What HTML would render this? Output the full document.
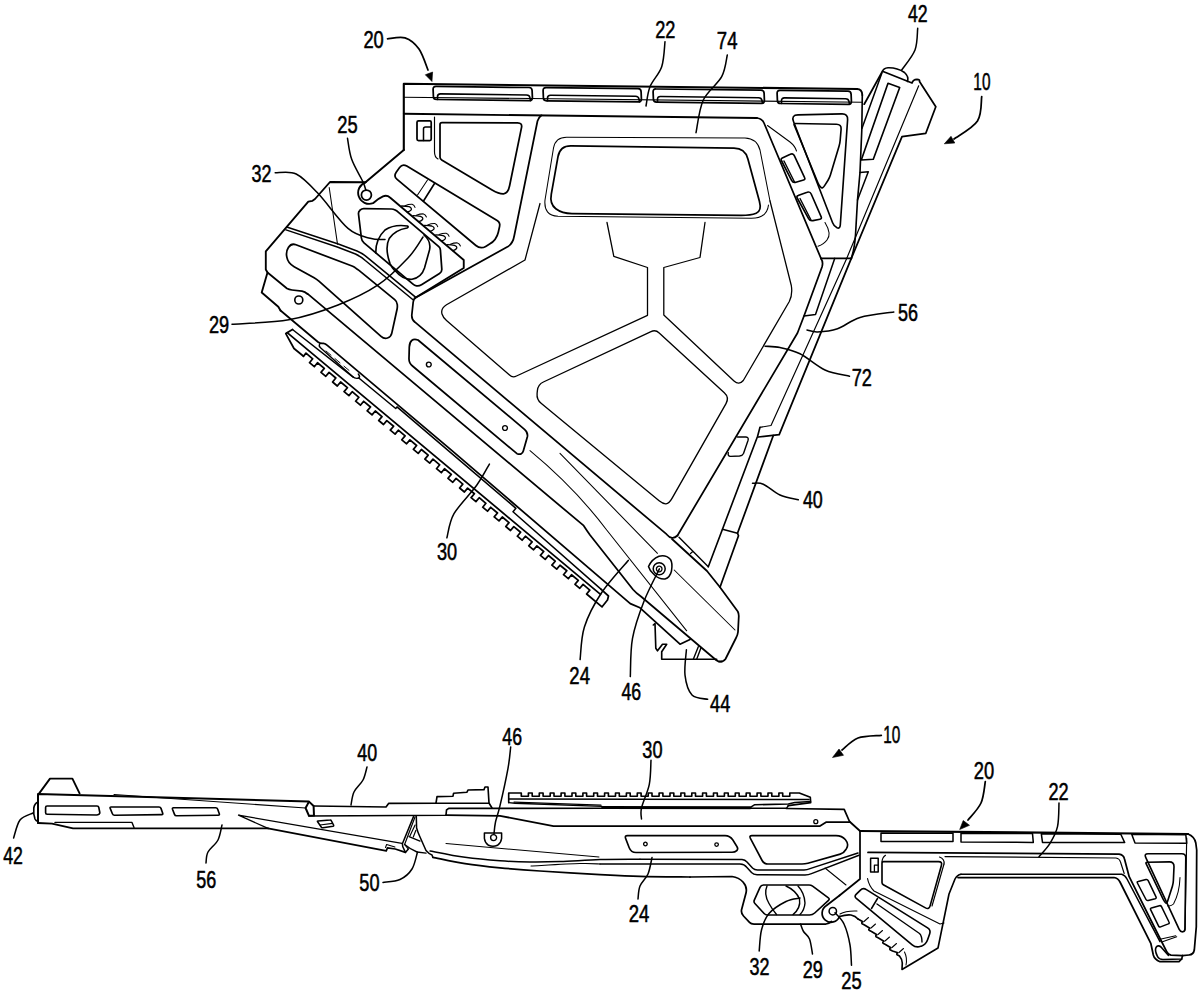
<!DOCTYPE html><html><head><meta charset="utf-8"><style>html,body{margin:0;padding:0;background:#fff}svg{display:block}text{font-family:"Liberation Sans",sans-serif;font-size:24px;fill:#000;stroke:#000;stroke-width:0.55px;stroke-linejoin:round}</style></head><body>
<svg width="1200" height="992" viewBox="0 0 1200 992">
<rect width="1200" height="992" fill="#fff"/>
<g fill="none" stroke="#000" stroke-linecap="round" stroke-linejoin="round">
<path d="M403.8,150.0 L403.8,83.8 L857.0,89.0" stroke-width="2.11"/>
<path d="M857,89.0 Q862,89.0 862.3,95" stroke-width="1.87"/>
<path d="M403.8,97.2 L862.3,102.2" stroke-width="1.05"/>
<path d="M403.8,113.8 L757.0,118.0" stroke-width="1.87"/>
<path d="M433.1,89.4 Q433.0,86.4 436.0,86.4 L529.0,87.5 Q532.0,87.5 532.1,90.5 L532.4,97.6 Q532.5,100.6 529.5,100.6 L436.5,99.5 Q433.5,99.5 433.4,96.5 Z" stroke-width="1.75"/>
<path d="M437.5,99.5 L437.5,96.7 Q437.5,93.9 440.5,93.9 L526.5,95.0 Q529.5,95.0 530.0,97.8 L530.5,100.6" stroke-width="1.64"/>
<path d="M543.1,90.6 Q543.0,87.7 546.0,87.7 L638.0,88.7 Q641.0,88.8 641.1,91.8 L641.4,98.9 Q641.5,101.9 638.5,101.8 L546.5,100.8 Q543.5,100.8 543.4,97.8 Z" stroke-width="1.75"/>
<path d="M547.5,100.8 L547.5,98.0 Q547.5,95.2 550.5,95.2 L635.5,96.2 Q638.5,96.3 639.0,99.1 L639.5,101.9" stroke-width="1.64"/>
<path d="M653.1,91.9 Q653.0,88.9 656.0,89.0 L761.0,90.2 Q764.0,90.2 764.1,93.2 L764.4,100.3 Q764.5,103.3 761.5,103.3 L656.5,102.1 Q653.5,102.0 653.4,99.0 Z" stroke-width="1.75"/>
<path d="M657.5,102.0 L657.5,99.2 Q657.5,96.4 660.5,96.5 L758.5,97.7 Q761.5,97.7 762.0,100.5 L762.5,103.3" stroke-width="1.64"/>
<path d="M777.1,93.3 Q777.0,90.3 780.0,90.4 L848.0,91.2 Q851.0,91.2 851.1,94.2 L851.4,101.3 Q851.5,104.3 848.5,104.3 L780.5,103.5 Q777.5,103.4 777.4,100.4 Z" stroke-width="1.75"/>
<path d="M781.5,103.4 L781.5,100.6 Q781.5,97.8 784.5,97.9 L845.5,98.7 Q848.5,98.7 849.0,101.5 L849.5,104.3" stroke-width="1.64"/>
<path d="M417.0,122.2 Q417.0,120.8 418.5,120.8 L429.8,120.8 Q431.2,120.8 431.2,122.2 L431.2,139.0 Q431.2,140.5 429.8,140.5 L418.5,140.5 Q417.0,140.5 417.0,139.0 Z" stroke-width="1.75"/>
<path d="M423.5,140.5 L423.5,129.0 Q423.5,127.0 425.5,127.0 L431.2,127.0" stroke-width="1.52"/>
<path d="M434.5,117 L434.5,152 Q434.5,157 438,159" stroke-width="1.17"/>
<path d="M440.0,124.5 Q440.0,122.5 442.0,122.5 L517.5,122.8 Q522.5,122.8 521.5,127.7 L509.6,185.7 Q508.0,193.5 503.5,193.8 L503.5,193.8 Q499.0,194.0 492.1,189.9 L441.7,160.0 Q440.0,159.0 440.0,157.0 Z" stroke-width="1.75"/>
<path d="M397.1,179.4 Q393.3,176.2 396.2,172.2 L399.6,167.5 Q402.5,163.5 406.8,166.1 L497.1,220.4 Q500.5,222.5 499.6,226.4 L498.3,232.2 Q496.5,240.0 489.6,244.1 L485.7,246.4 Q480.5,249.4 475.9,245.5 Z" stroke-width="1.75"/>
<path d="M403.8,150.0 L365.5,182.3" stroke-width="1.99"/>
<path d="M365.5,182.3 A10.3,10.3 0 1 0 373,203.2 Q378,198.5 383,196.3 Q387,194.8 390,197.5 L463.75,260 L463.75,268 L414.5,298.3" stroke-width="1.87"/>
<path d="M371.4,195 A5,5 0 1 0 361.4,195 A5,5 0 1 0 371.4,195" stroke-width="1.75"/>
<path d="M365.5,182.3 L330.0,182.0 L315.0,199.0 L312.5,200.8 L308.3,201.7 L265.8,251.3 L265.8,269.5 L267.5,272.5 L261.7,292.5 L278.3,306.7 L280.5,310.5" stroke-width="1.87"/>
<path d="M267.5,272.5 L287,288.5 Q289,289.6 292,290 L302,291.2 Q305,291.8 307.5,294" stroke-width="1.75"/>
<path d="M302.8,300 A4,4 0 1 0 294.8,300 A4,4 0 1 0 302.8,300" stroke-width="1.64"/>
<path d="M286.7,227 L338.3,244 L357,251 Q363,253.6 367.5,257.6 L415.5,297.2" stroke-width="1.52"/>
<path d="M286,229.9 L337.3,247 L355.5,254 Q361,256.6 365.3,260.5 L413.3,300" stroke-width="1.52"/>
<path d="M329.2,187.5 L337.5,244.2" stroke-width="1.05"/>
<path d="M358.5,214.0 Q358.3,212.0 359.7,210.6 L360.3,209.9 Q361.7,208.5 363.7,208.5 L391.3,209.0 Q393.3,209.0 395.1,210.0 L395.2,210.0 Q397.0,211.0 398.5,212.3 L438.8,246.7 Q440.3,248.0 440.4,250.0 L441.8,269.0 Q442.0,272.0 439.5,273.6 L421.5,284.7 Q419.0,286.3 416.8,285.9 L416.5,285.9 Q414.5,285.5 413.0,284.2 L364.0,242.9 Q361.7,241.0 361.4,238.0 Z" stroke-width="1.75"/>
<path d="M375.8,253 Q375.5,239 385,230 Q394,224 407.5,226 Q409,227 407,228 Q395,230 389.2,238.5 Q384.5,248 390,263.5 Q392,268 395,271" stroke-width="1.64"/>
<path d="M424,235 Q431.5,241.5 429.5,250 L424.5,268 Q421.5,277.5 412,279.3 Q403,280 395.5,271" stroke-width="1.64"/>
<path d="M286.7,256.4 Q285.8,251.5 288.5,247.3 L288.6,247.2 Q291.3,243.0 296.0,244.8 L351.4,265.8 Q353.3,266.5 355.0,267.6 L357.3,269.2 Q359.0,270.3 360.5,271.6 L394.7,299.6 Q397.0,301.5 397.2,304.2 L397.3,305.0 Q397.5,307.0 397.1,309.0 L391.8,333.1 Q391.0,337.0 387.5,338.0 L387.5,338.0 Q384.0,339.0 381.0,336.3 L318.9,281.2 Q316.7,279.2 314.1,277.7 L294.1,266.7 Q288.0,263.3 286.9,257.4 Z" stroke-width="1.75"/>
<path d="M307.7,293.8 L583.7,525.7 Q586.5,530.0 590,535 L633,589.5 Q636,593 641,596.5 L716,660 Q718.5,662 722,661.7" stroke-width="1.75"/>
<path d="M280.5,310.5 L318,342 Q320.5,343.8 323.5,343.3 Q325.5,343.5 327.0,345.2 L450.8,449.7 L630.3,603.6 L640,607.8 L680,644.2 L690,639.5" stroke-width="1.75"/>
<path d="M319.7,344 Q318.5,346 320.5,347.8 L352.5,376.5 Q355.5,379.3 358.8,378 Q360.5,376.5 358.3,374" stroke-width="1.40"/>
<path d="M326.0,351.0 L331.0,355.2" stroke-width="0.94"/>
<path d="M335.0,358.6 L340.0,362.8" stroke-width="0.94"/>
<path d="M344.0,366.2 L349.0,370.4" stroke-width="0.94"/>
<path d="M292.5,329.5 L353.5,377.3" stroke-width="1.52"/>
<path d="M358.8,378.0 L395.7,408.5 L397.0,406.9 L515.9,508.3 L513.0,511.8 L601.2,589.4" stroke-width="1.52"/>
<path d="M292.5,329.5 L285.8,333.6 L294.0,348.5 L303.5,356.2" stroke-width="1.75"/>
<path d="M287.2,332.6 L600.5,594.4" stroke-width="1.75"/>
<path d="M601.2,589.4 L608.5,596.0 L607.5,600.0 L602.5,606.2" stroke-width="1.75"/>
<path d="M303.5,356.2 L306.0,353.1 L312.7,358.8 L309.5,362.7 L314.3,366.7 L317.5,362.8 L324.3,368.4 L321.0,372.3 L325.8,376.3 L329.1,372.4 L335.8,378.0 L332.6,382.0 L337.3,386.0 L340.6,382.0 L347.4,387.7 L344.1,391.6 L348.9,395.6 L352.2,391.7 L358.9,397.3 L355.6,401.2 L360.4,405.2 L363.7,401.3 L370.5,407.0 L367.2,410.9 L372.0,414.9 L375.3,411.0 L382.0,416.6 L378.7,420.5 L383.5,424.5 L386.8,420.6 L393.6,426.2 L390.3,430.1 L395.1,434.1 L398.3,430.2 L405.1,435.9 L401.8,439.8 L406.6,443.8 L409.9,439.9 L416.6,445.5 L413.4,449.4 L418.2,453.4 L421.4,449.5 L428.2,455.1 L424.9,459.1 L429.7,463.1 L433.0,459.1 L439.7,464.8 L436.5,468.7 L441.3,472.7 L444.5,468.8 L451.3,474.4 L448.0,478.3 L452.8,482.3 L456.1,478.4 L462.8,484.1 L459.6,488.0 L464.4,492.0 L467.6,488.1 L474.4,493.7 L471.1,497.6 L475.9,501.6 L479.2,497.7 L485.9,503.3 L482.7,507.2 L487.5,511.2 L490.7,507.3 L497.5,513.0 L494.2,516.9 L499.0,520.9 L502.3,517.0 L509.0,522.6 L505.8,526.5 L510.5,530.5 L513.8,526.6 L520.6,532.2 L517.3,536.2 L522.1,540.2 L525.4,536.2 L532.1,541.9 L528.8,545.8 L533.6,549.8 L536.9,545.9 L543.7,551.5 L540.4,555.4 L545.2,559.4 L548.5,555.5 L555.2,561.2 L551.9,565.1 L556.7,569.1 L560.0,565.2 L566.8,570.8 L563.5,574.7 L568.3,578.7 L571.5,574.8 L578.3,580.4 L575.0,584.3 L579.8,588.3 L583.1,584.4 L589.8,590.1 L586.6,594.0 L602.0,606.9" stroke-width="1.75"/>
<path d="M409.3,347 Q409.8,337.5 418,340 L524.5,429.3 Q528.3,432.5 527.3,437 L523.3,451 Q522,455.5 517,453.7 L412.5,366 Q408.7,363 409,358 Z" stroke-width="1.75"/>
<path d="M431.2,364.5 a2.4,2.4 0 1 0 -4.8,0 a2.4,2.4 0 1 0 4.8,0" stroke-width="1.40"/>
<path d="M507.4,428 a2.4,2.4 0 1 0 -4.8,0 a2.4,2.4 0 1 0 4.8,0" stroke-width="1.40"/>
<path d="M541.5,115.3 Q538.5,117.5 537.5,121 L514.3,235.5 Q513,243.5 508,246.5 L416,297.5 Q413.5,299 413.2,302 L411.8,315 Q411.5,319.5 415,322.2 L666.5,534.2 Q672,540.8 677.5,535.5" stroke-width="1.75"/>
<path d="M672,539 L707,571 L720,587.3 L737.8,611.5 Q738.8,613.5 738.8,616 L738,632 Q737.8,634.5 736,638 L725.5,659 Q723.5,662 719,661.6" stroke-width="1.75"/>
<path d="M679.0,537.3 L708.3,566.7" stroke-width="1.40"/>
<path d="M690.5,553.5 L692.5,551.8" stroke-width="1.17"/>
<path d="M540,203.5 L525,260 L446.5,304.8 Q440.5,308.5 442,314 Q443,317.5 446.5,320.5 L509.5,375 Q512.5,378 516.5,376 L647.5,315.3 L647.5,267.5 L613.8,256.3 L607,222.5" stroke-width="1.29"/>
<path d="M705,222.5 L700,257.5 L663.8,267.5 L663.8,315 L734,381 Q739,385.5 743.3,380.5 L789.3,301.5 Q792.8,294.5 791.3,285.5 L770,201" stroke-width="1.29"/>
<path d="M537.4,390.5 Q538.0,384.5 543.4,382.0 L651.0,331.6 Q655.5,329.5 659.2,332.9 L724.3,392.8 Q729.5,397.5 726.0,403.6 L672.0,498.3 Q669.0,503.5 666.0,503.8 L666.0,503.8 Q663.0,504.0 659.1,500.8 L541.1,403.3 Q536.5,399.5 537.1,393.5 Z" stroke-width="1.35"/>
<path d="M558.0,156.6 Q560.0,145.8 571.0,145.9 L734.0,148.2 Q745.0,148.3 747.9,158.9 L759.4,201.3 Q762.0,211.0 756.2,213.2 L756.2,213.2 Q750.5,215.5 740.5,215.4 L572.0,213.6 Q562.0,213.5 555.8,208.8 L555.8,208.8 Q549.5,204.0 551.3,194.2 Z" stroke-width="1.75"/>
<path d="M553.5,148 L545,200 Q543.5,215.5 558,216.3 L751,218.3 Q767,218.5 768.5,205" stroke-width="1.05"/>
<path d="M553.5,148 Q555.5,137 567,137.2 L745,138 Q757,138.5 760,150 L770,201" stroke-width="1.05"/>
<path d="M821.0,258.4 L851.3,258.4" stroke-width="1.75"/>
<path d="M821,258.4 Q823.5,262 822,267 L804,316 L797.5,333 L677.5,535.5" stroke-width="1.75"/>
<path d="M834.7,258.4 L815.5,314.5 L804.0,316.0" stroke-width="1.52"/>
<path d="M846.7,258.4 L771.0,425.5 L760.0,427.3" stroke-width="1.17"/>
<path d="M760.0,427.3 L757.5,436.5 L708.3,566.7" stroke-width="1.64"/>
<path d="M722.5,529.2 L737.5,533.3" stroke-width="1.52"/>
<path d="M851.3,258.4 L779.2,434.7 L758.3,437.0" stroke-width="1.75"/>
<path d="M773.3,435.5 L737.5,533.3 L738.5,535.8 L720.0,587.3" stroke-width="1.75"/>
<path d="M737.5,437 L746,437 Q749,437.3 748,440.5 L743.5,453.5 Q742.5,455.8 739.5,456 L730.5,456.4 Q727.5,456 728.3,452.8" stroke-width="1.40"/>
<path d="M757,118.0 Q762,118.6 764,123 L821,258.4" stroke-width="1.75"/>
<path d="M862.3,95 L861.8,130 L860,172.5 L857.5,200 L855.5,235 Q854.5,249 851.3,258.4" stroke-width="1.64"/>
<path d="M793.5,121.5 Q791.0,115.0 798.0,114.9 L842.0,113.9 Q848.0,113.8 847.6,119.8 L840.3,225.0 Q840.0,229.0 837.0,227.8 L837.0,227.8 Q834.0,226.5 832.6,222.8 Z" stroke-width="1.64"/>
<path d="M794.3,125.3 Q793.5,123.5 795.5,123.5 L836.5,124.2 Q841.5,124.3 841.1,129.3 L840.2,140.0 Q840.0,143.0 839.1,145.9 L830.4,175.1 Q829.5,178.0 827.9,180.5 L824.6,185.6 Q822.5,189.0 820.8,187.2 L820.8,187.2 Q819.0,185.5 817.9,182.7 Z" stroke-width="1.64"/>
<path d="M781.4,160.5 Q780.5,158.8 782.3,157.9 L790.3,154.3 Q793.0,153.0 794.3,155.7 L804.6,177.7 Q805.5,179.5 803.6,180.0 L795.9,182.2 Q793.0,183.0 791.6,180.3 Z" stroke-width="1.64"/>
<path d="M784.0,161.0 L794.5,182.0" stroke-width="1.40"/>
<path d="M797.2,198.0 Q796.2,196.2 798.1,195.6 L807.2,192.3 Q810.0,191.2 811.2,194.0 L821.2,216.9 Q822.0,218.8 820.0,219.2 L812.9,220.6 Q810.0,221.2 808.6,218.6 Z" stroke-width="1.64"/>
<path d="M800.0,198.5 L811.0,220.0" stroke-width="1.40"/>
<path d="M767.5,125.5 L790,142 Q795,146 796.5,151" stroke-width="1.05"/>
<path d="M825,222.5 Q832,234 827,240 Q824,244 818,246.3" stroke-width="1.05"/>
<path d="M882.5,71.3 Q883.5,68.3 888,67.8 Q897,67.5 904.5,72.5 Q909,76.5 907.5,81.5" stroke-width="1.64"/>
<path d="M864.2,104.2 L882.5,71.3 L912,83 Q913,79.5 917,79.3 Q920,79.5 919.5,81.5 L935.8,106.7 L925.8,133.3 L902,136.7 L851.3,258.4" stroke-width="1.75"/>
<path d="M881.7,73.5 L862.0,128.3" stroke-width="1.52"/>
<path d="M918.7,85.8 L846.7,258.4" stroke-width="1.17"/>
<path d="M861.3,160.0 L888.0,83.3 L899.7,87.5 L873.3,159.2 L861.3,160.0" stroke-width="1.64"/>
<path d="M860.0,172.5 L868.3,171.7 L857.5,200.0" stroke-width="1.52"/>
<path d="M417.5,195.0 L427.5,180.0" stroke-width="1.05"/>
<path d="M423.5,201.0 L434.5,183.5" stroke-width="1.64"/>
<path d="M401.6,206.0 Q406.3,206.1 409.0,206.7 Q412.1,207.9 411.2,209.9 Q409.8,211.5 407.4,212.0" stroke-width="1.29"/>
<path d="M405.0,205.7 Q408.8,204.1 412.1,204.3 Q414.3,204.9 415.0,207.4" stroke-width="1.05"/>
<path d="M413.0,215.7 Q417.7,215.8 420.4,216.3 Q423.5,217.5 422.6,219.5 Q421.2,221.2 418.8,221.7" stroke-width="1.29"/>
<path d="M416.4,215.3 Q420.2,213.8 423.5,213.9 Q425.7,214.5 426.4,217.0" stroke-width="1.05"/>
<path d="M424.3,225.3 Q429.0,225.4 431.7,226.0 Q434.8,227.2 433.9,229.2 Q432.5,230.8 430.1,231.3" stroke-width="1.29"/>
<path d="M427.7,225.0 Q431.5,223.4 434.8,223.6 Q437.0,224.2 437.7,226.7" stroke-width="1.05"/>
<path d="M435.7,234.9 Q440.4,235.0 443.1,235.6 Q446.2,236.8 445.2,238.8 Q443.9,240.4 441.5,240.9" stroke-width="1.29"/>
<path d="M439.1,234.6 Q442.9,233.0 446.2,233.2 Q448.4,233.8 449.1,236.3" stroke-width="1.05"/>
<path d="M447.0,244.6 Q451.7,244.7 454.4,245.3 Q457.5,246.5 456.6,248.5 Q455.2,250.1 452.8,250.6" stroke-width="1.29"/>
<path d="M450.4,244.3 Q454.2,242.7 457.5,242.9 Q459.7,243.5 460.4,246.0" stroke-width="1.05"/>
<path d="M530,450.7 Q575,488 606.7,530 L686.7,630.8" stroke-width="1.05"/>
<path d="M560.0,453.3 L657.5,553.3" stroke-width="1.05"/>
<path d="M674.2,570.0 L735.0,630.0" stroke-width="1.05"/>
<path d="M648.5,566.5 Q652,559 659,556.3 Q666,554.5 670.5,559.5 Q672.8,563 671.5,571 Q670,577.5 665,579 Q659,579.5 654,574.5 Q649.5,570.5 648.5,566.5 Z" stroke-width="1.52"/>
<path d="M665.2,568.7 a6,6 0 1 0 -12,0 a6,6 0 1 0 12,0" stroke-width="1.52"/>
<path d="M662,569 a2.8,2.8 0 1 0 -5.6,0 a2.8,2.8 0 1 0 5.6,0" stroke-width="1.29"/>
<path d="M653.3,625 L655,623.5 L655.8,648.3 L657.5,650.8 L662.5,644.2 L666.7,644.2 L661.7,651.7 L661.7,659.2 L716.7,659.2" stroke-width="1.64"/>
<path d="M693.3,659.2 L698.3,646.7" stroke-width="1.40"/>
<path d="M696.7,659.2 L700.8,648.3" stroke-width="1.40"/>
<path d="M39.0,793.6 L50.0,778.6 L72.4,778.6 L79.6,793.4" stroke-width="1.87"/>
<path d="M38.0,823.0 L38.0,794.0 L309.0,801.6 L313.6,806.0 L314.0,815.6 L309.0,815.8 L305.6,808.0 L309.0,801.6" stroke-width="1.99"/>
<path d="M38,802 Q34.5,803.5 33.8,808 Q33.2,814 35,819 Q36,821 38,821.5" stroke-width="1.64"/>
<path d="M38.0,823.0 L52.0,823.6 L73.0,828.4 L268.0,828.4" stroke-width="1.87"/>
<path d="M55.0,822.4 L132.0,822.4 L134.0,827.6" stroke-width="1.40"/>
<path d="M45.6,807.5 Q45.6,806.0 47.1,806.0 L97.0,806.0 Q98.5,806.0 98.8,807.5 L99.8,812.5 Q100.0,813.5 99.2,814.1 L99.0,814.2 Q98.0,815.0 96.5,815.0 L47.1,814.2 Q45.6,814.2 45.6,812.7 Z" stroke-width="1.64"/>
<path d="M110.2,808.4 Q109.6,807.0 111.1,807.0 L159.0,807.0 Q160.5,807.0 161.0,808.4 L162.7,813.2 Q163.2,814.6 161.7,814.6 L114.5,815.2 Q113.0,815.2 112.4,813.8 Z" stroke-width="1.64"/>
<path d="M172.5,809.2 Q172.0,807.8 173.5,807.8 L215.7,807.8 Q217.2,807.8 217.7,809.2 L219.3,813.8 Q219.8,815.2 218.3,815.2 L176.5,815.8 Q175.0,815.8 174.5,814.4 Z" stroke-width="1.64"/>
<path d="M114.0,794.6 L305.6,808.0" stroke-width="1.05"/>
<path d="M314.0,806.0 L386.0,807.0 L388.6,803.4 L436.0,803.2 L437.0,796.6 L453.0,796.2 L453.6,793.2 L467.0,792.2 L468.0,790.0 L484.0,789.6 L485.0,787.0 L488.0,787.0 L489.0,803.0 L492.0,808.0" stroke-width="1.64"/>
<path d="M436.0,803.2 L489.0,803.2" stroke-width="1.64"/>
<path d="M309.0,816.0 L446.0,815.2 L446.5,810.0 L448.7,808.4 L602.8,808.3" stroke-width="1.64"/>
<path d="M446.0,815.2 L500.0,815.8 L553.5,826.2 L820.0,826.0 L826.0,822.2 L850.0,822.2" stroke-width="1.75"/>
<path d="M268.0,828.4 L386.3,850.9 L387.4,847.9 L395.3,849.0 L405.4,852.4" stroke-width="1.64"/>
<path d="M268.0,828.4 L238.5,815.2 L402.0,843.3" stroke-width="1.29"/>
<path d="M317.6,821.8 Q317.0,821.0 318.0,820.9 L330.0,820.1 Q331.0,820.0 331.4,820.9 L333.6,825.1 Q334.0,826.0 333.0,826.2 L323.0,827.8 Q322.0,828.0 321.4,827.2 Z" stroke-width="1.52"/>
<path d="M320.0,825.0 L332.5,823.3" stroke-width="1.17"/>
<path d="M385.5,847.5 L386.6,844.5 L394.9,847.1" stroke-width="1.05"/>
<path d="M413.6,816.4 L402.4,843.8 L402.8,846.8 L405.4,852.4 L408.4,849.0" stroke-width="1.52"/>
<path d="M415.1,816.8 L404.6,844.5 L408.0,848.6" stroke-width="1.17"/>
<path d="M416.3,816.4 L416.6,828 Q417.5,831.5 420,837 L426,850.5 Q428.5,853.5 432,855 L432.8,857.3" stroke-width="1.52"/>
<path d="M415.1,825.0 L409.9,835.9" stroke-width="1.17"/>
<path d="M415.9,830.3 L413.3,837.0" stroke-width="1.17"/>
<path d="M409.1,836.6 L420.0,841.1" stroke-width="1.40"/>
<path d="M404.6,844.5 Q410,849 417,852 L426,853.1" stroke-width="1.40"/>
<path d="M432.8,857.3 C438.2,858.3 453.8,861.9 465.0,863.6 C476.2,865.4 487.5,866.6 500.0,867.8 C512.5,869.0 523.3,869.9 540.0,871.0 C556.7,872.1 583.3,873.7 600.0,874.6 C616.7,875.5 625.0,876.0 640.0,876.4 C655.0,876.8 681.7,876.9 690.0,877.0" stroke-width="1.75"/>
<path d="M690,877 L732,876.5 Q739,877.5 743,882 Q747.5,887 746,893 L741.5,910 Q741,913.5 743.5,916 L749.5,922.3 Q751,924 754,924 L826,924 Q829,923.5 831.5,921.5" stroke-width="1.75"/>
<path d="M430.1,850.9 C435.9,852.0 453.4,855.6 465.0,857.3 C476.6,858.9 489.2,860.0 500.0,860.8 C510.8,861.6 520.0,861.9 530.0,862.0 C540.0,862.1 548.3,862.0 560.0,861.6 C571.7,861.2 586.7,860.0 600.0,859.6 C613.3,859.2 633.3,859.3 640.0,859.2" stroke-width="1.52"/>
<path d="M640,859.2 L742,859.6 Q745,859.8 747,862 L752.5,868 Q754.5,870 757.5,870 L804,870 Q807,869.8 810,868.6 L858,853" stroke-width="1.52"/>
<path d="M531.0,866.0 C539.2,865.6 568.5,863.9 580.0,863.6 C591.5,863.3 596.7,863.9 600.0,864.0" stroke-width="1.05"/>
<path d="M600,864 L740,864 Q744.5,864.3 746.5,867 L751.5,872.5 Q753.5,874.6 757,874.7 L805,875 Q808.5,874.8 811.5,873.6 L859,855.3" stroke-width="1.52"/>
<path d="M446.0,843.6 L599.0,857.0" stroke-width="1.05"/>
<path d="M484.4,833 L501.6,833 L501.6,838.5 Q501,843 497.5,845.3 Q493,847.3 488.5,845.3 Q485,843 484.4,838.5 Z" stroke-width="1.52"/>
<path d="M496.6,837.6 a3,3 0 1 0 -6,0 a3,3 0 1 0 6,0" stroke-width="1.40"/>
<path d="M508.7,802.6 L508.7,793.0 L521.3,793.0 L521.3,796.3 L528.4,796.3 L528.4,793.0 L532.2,793.0 L532.2,796.3 L539.3,796.3 L539.3,793.0 L543.1,793.0 L543.1,796.3 L550.2,796.3 L550.2,793.0 L554.0,793.0 L554.0,796.3 L561.1,796.3 L561.1,793.0 L564.9,793.0 L564.9,796.3 L572.0,796.3 L572.0,793.0 L575.8,793.0 L575.8,796.3 L582.9,796.3 L582.9,793.0 L586.6,793.0 L586.6,796.3 L593.7,796.3 L593.7,793.0 L597.5,793.0 L597.5,796.3 L604.6,796.3 L604.6,793.0 L608.4,793.0 L608.4,796.3 L615.5,796.3 L615.5,793.0 L619.3,793.0 L619.3,796.3 L626.4,796.3 L626.4,793.0 L630.2,793.0 L630.2,796.3 L637.3,796.3 L637.3,793.0 L641.1,793.0 L641.1,796.3 L648.2,796.3 L648.2,793.0 L652.0,793.0 L652.0,796.3 L659.1,796.3 L659.1,793.0 L662.9,793.0 L662.9,796.3 L670.0,796.3 L670.0,793.0 L673.8,793.0 L673.8,796.3 L680.9,796.3 L680.9,793.0 L684.7,793.0 L684.7,796.3 L691.8,796.3 L691.8,793.0 L695.5,793.0 L695.5,796.3 L702.6,796.3 L702.6,793.0 L706.4,793.0 L706.4,796.3 L713.5,796.3 L713.5,793.0 L717.3,793.0 L717.3,796.3 L724.4,796.3 L724.4,793.0 L728.2,793.0 L728.2,796.3 L735.3,796.3 L735.3,793.0 L739.1,793.0 L739.1,796.3 L746.2,796.3 L746.2,793.0 L750.0,793.0 L750.0,796.3 L757.1,796.3 L757.1,793.0 L760.9,793.0 L760.9,796.3 L768.0,796.3 L768.0,793.0 L771.8,793.0 L771.8,796.3 L778.9,796.3 L778.9,793.0 L782.7,793.0 L782.7,796.3 L789.8,796.3 L789.8,793.0 L799.3,793.0 L810.3,797.2 L810.7,802.6 L788.3,805.6" stroke-width="1.64"/>
<path d="M508.7,798.9 L809.0,799.5" stroke-width="1.52"/>
<path d="M508.7,802.6 L515.0,803.3 L602.0,806.4 L603.5,807.8" stroke-width="1.40"/>
<path d="M514.0,802.2 L601.0,805.2" stroke-width="1.17"/>
<path d="M602.8,807.6 L750.0,807.8" stroke-width="3.04"/>
<path d="M750.0,807.6 L754.4,804.8 L788.3,804.0 L794.8,802.6 L810.5,801.5" stroke-width="1.52"/>
<path d="M750.0,808.3 L786.5,808.3 L788.3,805.6" stroke-width="1.52"/>
<path d="M786.5,808.5 L844.2,809.4 L849.5,821.5 L860.0,831.0 L860.0,879.0 L839.5,895.5" stroke-width="1.75"/>
<path d="M817.8,821.7 a2,2 0 1 0 -4,0 a2,2 0 1 0 4,0" stroke-width="1.29"/>
<path d="M625.6,838.4 Q624.5,835.6 627.5,835.6 L725.0,835.6 Q730.0,835.6 732.7,839.8 L736.9,846.5 Q738.5,849.0 736.8,850.6 L736.8,850.6 Q735.0,852.3 732.0,852.3 L636.0,852.5 Q631.0,852.5 629.2,847.8 Z" stroke-width="1.64"/>
<path d="M647.2,844 a1.8,1.8 0 1 0 -3.6,0 a1.8,1.8 0 1 0 3.6,0" stroke-width="1.29"/>
<path d="M718.4,844.6 a1.8,1.8 0 1 0 -3.6,0 a1.8,1.8 0 1 0 3.6,0" stroke-width="1.29"/>
<path d="M750.4,838.3 Q749.0,835.6 752.0,835.6 L836.0,835.6 Q842.0,835.6 845.5,839.8 L845.8,840.2 Q849.0,844.0 846.6,848.4 L845.9,849.5 Q844.0,853.0 840.2,854.1 L807.9,863.2 Q805.0,864.0 802.0,864.0 L768.0,864.0 Q764.0,864.0 762.1,860.5 Z" stroke-width="1.64"/>
<path d="M825.0,868.0 L846.0,885.0" stroke-width="1.05"/>
<path d="M760.0,887.3 Q761.0,885.0 763.5,885.0 L809.0,885.0 Q811.0,885.0 812.6,886.2 L828.4,897.8 Q830.0,899.0 828.5,900.3 L814.7,913.0 Q812.5,915.0 809.5,915.0 L767.5,915.0 Q765.5,915.0 764.1,913.5 L754.9,903.5 Q753.5,902.0 754.3,900.2 Z" stroke-width="1.64"/>
<path d="M767,886 Q763.5,894 769,903.5 Q772,909 776.5,914.5" stroke-width="1.40"/>
<path d="M786,886 Q796,890.5 799.5,899 Q801,908 793,914.6" stroke-width="1.40"/>
<path d="M798,886 Q804.5,893 805,903 Q804.5,910 800,914.6" stroke-width="1.40"/>
<path d="M839.5,895.5 L826.5,905.5 A9,9 0 1 0 839.5,916.5" stroke-width="1.75"/>
<path d="M836.5,911.2 a3.7,3.7 0 1 0 -7.4,0 a3.7,3.7 0 1 0 7.4,0" stroke-width="1.52"/>
<path d="M860.0,831.0 L1188.0,834.0" stroke-width="2.22"/>
<path d="M1188,834 Q1194.5,836.5 1195.8,843 L1196.7,850 L1196.3,926.7 L1194.3,950 Q1193.5,954.5 1189,955 L1182.5,955.6" stroke-width="1.75"/>
<path d="M1186.7,838.0 L1185.0,930.0" stroke-width="1.17"/>
<path d="M881.0,832.9 L953.0,833.2 L953.0,841.6 L881.0,841.4 Z" stroke-width="1.52"/>
<path d="M961.0,833.2 L1032.5,833.6 L1033.3,842.4 L961.0,842.0 Z" stroke-width="1.52"/>
<path d="M1041.3,833.7 L1120.8,834.2 L1124.7,842.6 L1042.5,842.4 Z" stroke-width="1.52"/>
<path d="M1131.7,834.3 L1185.8,834.7 L1186.7,843.3 L1135.0,843.1 Z" stroke-width="1.52"/>
<path d="M868,852.4 L1119,854.2 Q1123.5,854.8 1124.5,859 L1129.2,876.7 L1160.8,940 L1166.7,951.7 Q1168,954.5 1171,955.2 L1182.5,955.6" stroke-width="1.75"/>
<path d="M885.5,855.3 Q882.2,857.5 882,862" stroke-width="1.17"/>
<path d="M939.5,857 Q944.8,858.8 944,864" stroke-width="1.17"/>
<path d="M945,856.6 L1116,858 Q1119.5,858.5 1120.5,862 L1124.2,873.5" stroke-width="1.17"/>
<path d="M961,874.3 L1121.7,874.2 Q1125,875 1127,879 L1160,941.7" stroke-width="1.52"/>
<path d="M958,877.5 L1114,877.5 Q1118,878 1120,882 L1150.8,943.3 L1153.3,955 Q1154.5,959.5 1160,961.7 L1179,961.7 L1181.7,959" stroke-width="1.75"/>
<path d="M1168.3,955.3 L1161,947 Q1158,944.5 1156,947.5 Q1154.5,950.5 1157.5,956.5 Q1159,959.5 1163,959.5 L1181.7,959 L1182.5,955.6" stroke-width="1.64"/>
<path d="M1137.4,883.0 Q1136.7,881.7 1138.2,881.4 L1146.0,879.5 Q1147.5,879.2 1148.2,880.6 L1156.0,896.9 Q1156.7,898.3 1155.2,898.7 L1148.2,900.4 Q1146.7,900.8 1146.0,899.5 Z" stroke-width="1.52"/>
<path d="M1150.6,909.7 Q1150.0,908.3 1151.4,907.9 L1159.4,905.7 Q1160.8,905.3 1161.5,906.6 L1169.0,922.0 Q1169.7,923.3 1168.3,923.9 L1160.6,926.9 Q1159.2,927.5 1158.6,926.1 Z" stroke-width="1.52"/>
<path d="M1145.7,857.3 Q1144.0,853.7 1148.0,853.7 L1181.8,853.7 Q1185.8,853.7 1185.8,857.7 L1185.0,928.5 Q1185.0,931.5 1182.8,931.8 L1182.8,931.8 Q1180.5,932.0 1179.2,929.3 Z" stroke-width="1.64"/>
<path d="M1146.1,863.7 Q1145.5,862.3 1147.0,862.3 L1169.2,861.9 Q1174.2,861.8 1174.0,866.8 L1173.4,880.3 Q1173.3,883.3 1172.4,886.2 L1167.5,901.6 Q1166.7,904.0 1165.3,902.5 L1165.3,902.5 Q1164.0,901.0 1163.1,899.2 Z" stroke-width="1.64"/>
<path d="M1180,877.5 Q1179.5,893 1173.5,904 Q1171,906.5 1167.5,905.8" stroke-width="1.05"/>
<path d="M1160.0,939.2 L1175.8,935.8" stroke-width="1.05"/>
<path d="M1162.5,941.7 L1176.7,936.7" stroke-width="1.05"/>
<path d="M870.6,858.3 L878.2,858.3 L878.2,872.0 L870.6,872.0 Z" stroke-width="1.52"/>
<path d="M874.4,871.5 L874.4,865.1 L878.2,865.1" stroke-width="1.29"/>
<path d="M867.5,878.5 Q869,886 874,891 L940,924 L944,923" stroke-width="1.17"/>
<path d="M882.0,863.1 Q882.0,861.6 883.5,861.6 L938.5,861.6 Q942.5,861.6 941.4,865.5 L930.1,905.9 Q929.0,909.8 925.5,907.9 L883.3,884.7 Q882.0,884.0 882.0,882.5 Z" stroke-width="1.64"/>
<path d="M944.0,864.0 L932.0,906.0" stroke-width="1.17"/>
<path d="M839.5,916.5 Q846,914.5 851,915 Q855.5,916 858,919" stroke-width="1.64"/>
<path d="M858,919 L862.9,921.8 q-1.8,0.6 -0.8,2 L864.5,925.0 L869.9,928.3 q-1.8,0.6 -0.8,2 L871.5,931.5 L876.9,934.8 q-1.8,0.6 -0.8,2 L878.5,938.0 L883.9,941.3 q-1.8,0.6 -0.8,2 L885.5,944.5 L890.9,947.8 q-1.8,0.6 -0.8,2 L892.5,951.0 L897.9,952.8 q-1.8,0.6 -0.8,2 L899.5,956.0 Q902,959 902.3,963 L902,969.5 L938,948 L949,894 L955,879 Q957,875 961,874.3" stroke-width="1.64"/>
<path d="M864.0,921.5 L868.5,917.5" stroke-width="1.05"/>
<path d="M871.0,928.0 L875.5,924.0" stroke-width="1.05"/>
<path d="M878.0,934.5 L882.5,930.5" stroke-width="1.05"/>
<path d="M885.0,941.0 L889.5,937.0" stroke-width="1.05"/>
<path d="M892.0,947.5 L896.5,943.5" stroke-width="1.05"/>
<path d="M899.0,952.5 L903.5,948.5" stroke-width="1.05"/>
<path d="M840,914 Q846,910.5 857,911" stroke-width="1.05"/>
<path d="M904.5,952 Q907.5,958 906,965" stroke-width="1.05"/>
<path d="M856.3,898.4 Q854.0,896.5 856.1,894.4 L860.2,890.3 Q863.0,887.5 866.4,889.6 L927.6,927.9 Q931.0,930.0 929.7,933.8 L927.6,939.8 Q926.0,944.5 921.3,946.2 L920.7,946.3 Q916.0,948.0 912.2,944.8 Z" stroke-width="1.64"/>
<path d="M877.5,898.5 L871.5,908.5" stroke-width="1.52"/>
<path d="M877,904 L919.5,933.5 Q922,936 922,942" stroke-width="1.40"/>
<path d="M387.5,38.8 C390.4,38.6 399.8,36.1 405.0,37.8 C410.2,39.5 415.2,43.6 419.0,49.0 C422.8,54.4 426.5,66.5 428.0,70.0" stroke-width="1.75"/>
<path d="M665.0,41.7 C664.5,45.9 664.2,59.2 661.7,66.7 C659.2,74.2 652.6,80.2 650.0,86.7 C647.4,93.2 646.7,102.8 646.0,106.0" stroke-width="1.52"/>
<path d="M727.3,55.0 C726.4,58.6 725.7,69.2 721.7,76.7 C717.7,84.2 707.6,90.7 703.3,100.0 C699.0,109.3 697.2,127.2 696.0,132.7" stroke-width="1.52"/>
<path d="M917.7,28.3 C917.2,31.9 917.7,43.0 915.0,50.0 C912.3,57.0 903.9,66.7 901.7,70.0" stroke-width="1.52"/>
<path d="M981.7,96.7 C981.0,100.8 982.1,114.0 977.5,121.0 C972.9,128.1 957.9,136.0 954.0,139.0" stroke-width="1.75"/>
<path d="M347.5,138.3 C348.2,141.8 349.1,152.1 351.7,159.3 C354.2,166.5 360.4,176.4 362.8,181.5 C365.2,186.6 365.3,188.6 365.8,190.0" stroke-width="1.52"/>
<path d="M275.2,172.8 C278.7,173.0 289.0,170.5 296.2,174.0 C303.4,177.5 309.8,184.7 318.4,193.8 C327.0,202.9 339.4,221.0 348.0,228.4 C356.6,235.8 364.0,236.5 370.2,238.3 C376.4,240.2 382.5,239.3 385.0,239.5" stroke-width="1.52"/>
<path d="M232.0,324.2 C241.5,323.5 271.1,323.0 288.8,319.8 C306.5,316.6 323.2,310.8 338.0,305.0 C352.8,299.2 366.0,293.0 377.7,285.2 C389.4,277.4 400.4,266.0 408.0,258.0 C415.6,250.0 420.5,240.5 423.0,237.0" stroke-width="1.52"/>
<path d="M893.8,312.0 C888.1,312.9 869.4,314.7 860.0,317.5 C850.6,320.3 844.6,326.3 837.5,328.8 C830.4,331.2 822.6,331.8 817.5,332.0 C812.4,332.2 808.8,330.3 807.0,330.0" stroke-width="1.52"/>
<path d="M849.5,376.2 C845.4,375.2 833.2,373.8 825.0,370.0 C816.8,366.2 807.5,357.5 800.0,353.8 C792.5,350.0 785.8,348.8 780.0,347.5 C774.2,346.2 767.5,346.5 765.0,346.2" stroke-width="1.52"/>
<path d="M752.5,483.3 C754.3,483.4 758.7,482.2 763.3,484.2 C767.9,486.1 774.2,492.4 780.0,495.0 C785.8,497.6 795.2,498.9 798.3,499.7" stroke-width="1.52"/>
<path d="M489.4,464.1 C487.3,467.6 482.6,477.0 476.7,485.3 C470.8,493.6 459.0,505.0 454.0,513.7 C449.0,522.5 448.1,533.8 446.9,537.8" stroke-width="1.52"/>
<path d="M628.3,560.4 C623.8,565.8 608.7,581.9 601.4,593.0 C594.1,604.1 587.9,615.9 584.4,627.0 C580.9,638.1 580.8,654.2 580.1,659.6" stroke-width="1.52"/>
<path d="M659.4,568.9 C656.8,574.3 648.4,589.9 643.9,601.5 C639.4,613.1 634.8,625.9 632.5,638.4 C630.2,650.9 630.7,670.2 630.3,676.6" stroke-width="1.52"/>
<path d="M686.4,649.7 C686.2,654.0 684.1,667.7 685.0,675.2 C685.9,682.8 688.2,691.0 692.0,695.0 C695.8,699.0 705.0,698.6 707.6,699.3" stroke-width="1.52"/>
<path d="M33.0,813.0 C30.8,814.2 23.2,815.8 20.0,820.0 C16.8,824.2 14.7,835.0 13.6,838.0" stroke-width="1.52"/>
<path d="M222.0,825.0 C221.3,827.5 220.3,835.5 218.0,840.0 C215.7,844.5 210.0,848.2 208.0,852.0 C206.0,855.8 206.3,861.2 206.0,863.0" stroke-width="1.52"/>
<path d="M367.0,767.0 C366.3,769.2 365.2,775.8 363.0,780.0 C360.8,784.2 356.0,787.8 354.0,792.0 C352.0,796.2 351.5,802.8 351.0,805.0" stroke-width="1.52"/>
<path d="M383.0,882.4 C385.8,881.9 395.2,881.7 400.0,879.5 C404.8,877.3 409.1,873.6 412.0,869.0 C414.9,864.4 416.6,854.8 417.5,852.0" stroke-width="1.52"/>
<path d="M510.7,747.0 C510.2,750.5 509.8,758.5 508.0,768.3 C506.2,778.1 502.1,796.8 500.0,805.7 C497.9,814.7 496.5,817.3 495.5,822.0 C494.5,826.7 494.2,832.0 494.0,834.0" stroke-width="1.52"/>
<path d="M651.0,760.3 C650.7,764.3 650.9,776.3 649.3,784.3 C647.7,792.2 642.8,802.2 641.5,808.0 C640.2,813.8 641.5,817.2 641.5,819.0" stroke-width="1.52"/>
<path d="M881.3,735.3 C877.4,735.8 864.5,735.5 858.0,738.0 C851.5,740.5 844.7,748.0 842.0,750.0" stroke-width="1.75"/>
<path d="M985.3,781.7 C984.6,785.2 983.9,796.6 981.0,803.0 C978.1,809.4 970.2,817.2 968.0,820.0" stroke-width="1.75"/>
<path d="M1059.0,803.0 C1058.8,807.0 1059.0,820.0 1057.5,826.7 C1056.0,833.4 1053.1,838.3 1050.0,843.3 C1046.9,848.3 1040.8,854.5 1039.0,856.7" stroke-width="1.52"/>
<path d="M652.0,857.6 C651.3,860.3 650.0,869.3 648.0,874.0 C646.0,878.7 641.7,881.8 640.0,886.0 C638.3,890.2 638.3,896.8 638.0,899.0" stroke-width="1.52"/>
<path d="M759.2,951.0 C759.6,947.5 759.9,936.2 761.5,930.0 C763.1,923.8 764.9,918.2 769.0,913.5 C773.1,908.8 780.8,904.1 786.0,901.5 C791.2,898.9 797.7,898.6 800.0,898.0" stroke-width="1.52"/>
<path d="M812.5,954.0 C812.0,951.5 811.0,942.8 809.5,939.0 C808.0,935.2 805.0,934.0 803.5,931.5 C802.0,929.0 801.0,925.2 800.5,924.0" stroke-width="1.52"/>
<path d="M851.5,965.2 C851.2,961.9 851.2,951.9 850.0,945.0 C848.8,938.1 846.5,929.4 844.0,924.0 C841.5,918.6 836.5,914.6 835.0,912.8" stroke-width="1.52"/>
</g>
<g id="fills" fill="#000" stroke="#000" stroke-width="0.45" stroke-linejoin="round">
<text x="363.40" y="48.25" font-size="25.2" textLength="20.4" lengthAdjust="spacingAndGlyphs">20</text>
<text x="655.15" y="37.70" font-size="25.2" textLength="20.2" lengthAdjust="spacingAndGlyphs">22</text>
<text x="716.84" y="49.30" font-size="25.2" textLength="20.6" lengthAdjust="spacingAndGlyphs">74</text>
<text x="907.91" y="22.30" font-size="25.2" textLength="19.7" lengthAdjust="spacingAndGlyphs">42</text>
<text x="973.35" y="90.00" font-size="25.2" textLength="17.1" lengthAdjust="spacingAndGlyphs">10</text>
<text x="337.25" y="133.30" font-size="25.2" textLength="20.4" lengthAdjust="spacingAndGlyphs">25</text>
<text x="251.56" y="181.50" font-size="25.2" textLength="20.0" lengthAdjust="spacingAndGlyphs">32</text>
<text x="208.95" y="333.30" font-size="25.2" textLength="20.2" lengthAdjust="spacingAndGlyphs">29</text>
<text x="898.08" y="320.50" font-size="25.2" textLength="20.0" lengthAdjust="spacingAndGlyphs">56</text>
<text x="851.64" y="385.50" font-size="25.2" textLength="20.2" lengthAdjust="spacingAndGlyphs">72</text>
<text x="802.91" y="508.30" font-size="25.2" textLength="19.9" lengthAdjust="spacingAndGlyphs">40</text>
<text x="436.96" y="560.40" font-size="25.2" textLength="20.2" lengthAdjust="spacingAndGlyphs">30</text>
<text x="569.35" y="684.30" font-size="25.2" textLength="20.6" lengthAdjust="spacingAndGlyphs">24</text>
<text x="621.41" y="700.10" font-size="25.2" textLength="19.7" lengthAdjust="spacingAndGlyphs">46</text>
<text x="710.11" y="711.50" font-size="25.2" textLength="20.2" lengthAdjust="spacingAndGlyphs">44</text>
<path d="M432.0,81.5 L425.3,74.8 L432.6,72.0 Z" fill="#000" stroke="#000" stroke-width="0.6" stroke-linejoin="round"/><path d="M944.3,143.8 L951.0,136.3 L954.8,143.0 Z" fill="#000" stroke="#000" stroke-width="0.6" stroke-linejoin="round"/>
<text x="3.21" y="863.60" font-size="25.2" textLength="19.7" lengthAdjust="spacingAndGlyphs">42</text>
<text x="196.33" y="887.60" font-size="25.2" textLength="20.0" lengthAdjust="spacingAndGlyphs">56</text>
<text x="357.21" y="761.00" font-size="25.2" textLength="19.9" lengthAdjust="spacingAndGlyphs">40</text>
<text x="359.33" y="891.00" font-size="25.2" textLength="20.2" lengthAdjust="spacingAndGlyphs">50</text>
<text x="502.31" y="745.40" font-size="25.2" textLength="19.7" lengthAdjust="spacingAndGlyphs">46</text>
<text x="642.36" y="757.70" font-size="25.2" textLength="20.2" lengthAdjust="spacingAndGlyphs">30</text>
<text x="883.15" y="743.30" font-size="25.2" textLength="17.1" lengthAdjust="spacingAndGlyphs">10</text>
<text x="973.85" y="779.00" font-size="25.2" textLength="20.4" lengthAdjust="spacingAndGlyphs">20</text>
<text x="1048.45" y="800.30" font-size="25.2" textLength="20.2" lengthAdjust="spacingAndGlyphs">22</text>
<text x="628.75" y="922.00" font-size="25.2" textLength="20.6" lengthAdjust="spacingAndGlyphs">24</text>
<text x="749.61" y="975.00" font-size="25.2" textLength="20.0" lengthAdjust="spacingAndGlyphs">32</text>
<text x="802.65" y="978.00" font-size="25.2" textLength="20.2" lengthAdjust="spacingAndGlyphs">29</text>
<text x="841.35" y="988.50" font-size="25.2" textLength="20.4" lengthAdjust="spacingAndGlyphs">25</text>
<path d="M832.5,757.5 L839.0,749.0 L843.5,755.3 Z" fill="#000" stroke="#000" stroke-width="0.6" stroke-linejoin="round"/><path d="M959.7,829.5 L963.2,820.5 L969.5,825.3 Z" fill="#000" stroke="#000" stroke-width="0.6" stroke-linejoin="round"/></g>
</svg></body></html>
